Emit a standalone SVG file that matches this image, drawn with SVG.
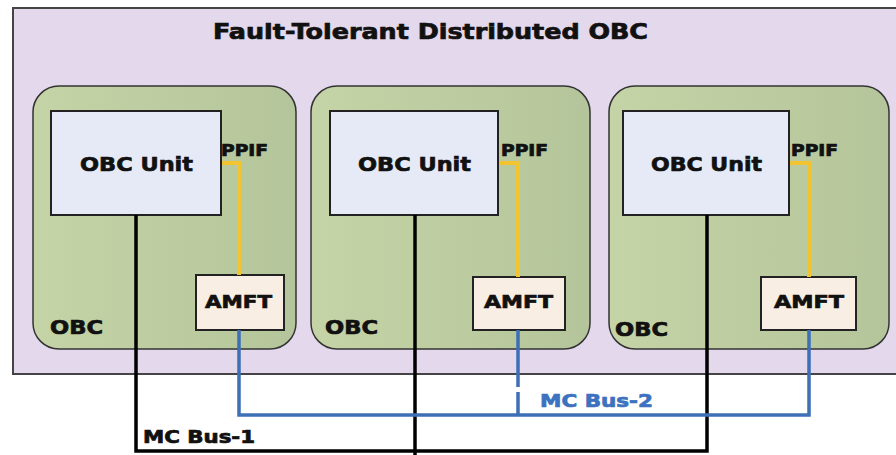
<svg xmlns="http://www.w3.org/2000/svg" width="896" height="455" viewBox="0 0 896 455">
<defs>
<linearGradient id="g" x1="0" y1="0" x2="1" y2="0">
<stop offset="0" stop-color="#c5d4a6"/>
<stop offset="1" stop-color="#b5c59b"/>
</linearGradient>
</defs>
<style>
text{font-family:"DejaVu Sans","Liberation Sans",Arial,sans-serif;font-weight:bold;fill:#111;stroke:#111;stroke-width:0.7}
.obc{fill:url(#g);stroke:#333;stroke-width:1.5}
.unit{fill:#e5eaf6;stroke:#222;stroke-width:2}
.amft{fill:#f8eee4;stroke:#222;stroke-width:2}
.y{fill:none;stroke:#f2c431;stroke-width:4}
.b{fill:none;stroke:#3c6fb6;stroke-width:3.5}
.k{fill:none;stroke:#000;stroke-width:3.5}
.blue{fill:#3c72c0;stroke:#3c72c0}
</style>
<rect width="896" height="455" fill="#fff"/>
<g id="system">
<rect x="13" y="8" width="890" height="366" fill="#e4d8ec" stroke="#444" stroke-width="2"/>
<text x="213" y="39" font-size="21" textLength="435" lengthAdjust="spacingAndGlyphs">Fault-Tolerant Distributed OBC</text>
</g>
<g id="obc1">
<rect class="obc" x="33" y="86" width="263" height="263" rx="26"/>
<text x="50" y="334" font-size="19" textLength="53" lengthAdjust="spacingAndGlyphs">OBC</text>
</g>
<g id="obc2">
<rect class="obc" x="311" y="86" width="279" height="263" rx="26"/>
<text x="325" y="334" font-size="19" textLength="53" lengthAdjust="spacingAndGlyphs">OBC</text>
</g>
<g id="obc3">
<rect class="obc" x="609" y="86" width="280" height="263" rx="26"/>
<text x="615" y="336" font-size="19" textLength="53" lengthAdjust="spacingAndGlyphs">OBC</text>
</g>
<g id="unit1">
<rect class="unit" x="51" y="111" width="170" height="104"/>
<text x="80" y="171" font-size="20" textLength="113" lengthAdjust="spacingAndGlyphs">OBC Unit</text>
<text x="221" y="156" font-size="15" textLength="47" lengthAdjust="spacingAndGlyphs">PPIF</text>
</g>
<g id="unit2">
<rect class="unit" x="330" y="111" width="168" height="104"/>
<text x="358" y="171" font-size="20" textLength="113" lengthAdjust="spacingAndGlyphs">OBC Unit</text>
<text x="501" y="156" font-size="15" textLength="47" lengthAdjust="spacingAndGlyphs">PPIF</text>
</g>
<g id="unit3">
<rect class="unit" x="623" y="111" width="166" height="104"/>
<text x="651" y="171" font-size="20" textLength="111" lengthAdjust="spacingAndGlyphs">OBC Unit</text>
<text x="791" y="156" font-size="15" textLength="47" lengthAdjust="spacingAndGlyphs">PPIF</text>
</g>
<g id="amft1">
<rect class="amft" x="196" y="275" width="88" height="55"/>
<text x="205" y="308" font-size="18" textLength="67" lengthAdjust="spacingAndGlyphs">AMFT</text>
</g>
<g id="amft2">
<rect class="amft" x="473" y="277" width="92" height="53"/>
<text x="484" y="308" font-size="18" textLength="69" lengthAdjust="spacingAndGlyphs">AMFT</text>
</g>
<g id="amft3">
<rect class="amft" x="761" y="277" width="95" height="53"/>
<text x="774" y="308" font-size="18" textLength="70" lengthAdjust="spacingAndGlyphs">AMFT</text>
</g>
<g id="connectors">
<path class="y" d="M222 163 H239 V275"/>
<path class="y" d="M499 163 H518 V277"/>
<path class="y" d="M790 163 H809 V277"/>
<path class="k" d="M136 215 V451 H707 V215"/>
<path class="k" d="M415 215 V455"/>
<path class="b" d="M239 330 V415 H809 V330"/>
<path class="b" d="M518 330 V387 M518 392 V415"/>
<text x="143" y="443" font-size="17" textLength="112" lengthAdjust="spacingAndGlyphs">MC Bus-1</text>
<text class="blue" x="540" y="407" font-size="17" textLength="113" lengthAdjust="spacingAndGlyphs">MC Bus-2</text>
</g>
</svg>
